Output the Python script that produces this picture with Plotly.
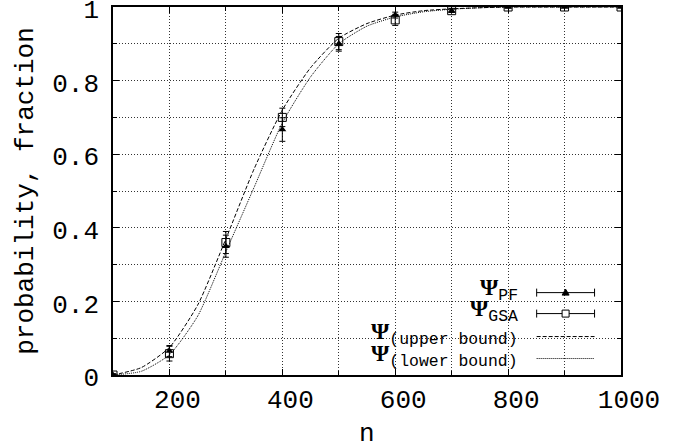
import plotly.graph_objects as go

# ---- data ----
n_points = [100, 200, 300, 400, 500, 600, 700, 800, 900, 1000]
psi_pf = [0.0, 0.065, 0.35, 0.667, 0.90, 0.978, 0.99, 1.0, 1.0, 1.0]
psi_pf_err = [0.003, 0.015, 0.03, 0.032, 0.02, 0.008, 0.005, 0.002, 0.0, 0.0]
psi_gsa = [0.0, 0.058, 0.36, 0.70, 0.906, 0.965, 0.99, 1.0, 1.0, 1.0]
psi_gsa_err = [0.003, 0.02, 0.03, 0.025, 0.022, 0.015, 0.005, 0.002, 0.0, 0.0]

n_curve = [100, 150, 200, 250, 300, 350, 400, 450, 500, 550, 600, 650, 700,
           750, 800, 850, 900, 950, 1000]
upper_bound = [0.0, 0.02, 0.075, 0.19, 0.37, 0.56, 0.72, 0.835, 0.915, 0.955,
               0.978, 0.99, 0.995, 0.998, 1.0, 1.0, 1.0, 1.0, 1.0]
lower_bound = [0.0, 0.01, 0.055, 0.16, 0.335, 0.51, 0.685, 0.81, 0.90, 0.948,
               0.973, 0.987, 0.994, 0.998, 1.0, 1.0, 1.0, 1.0, 1.0]

x_ticks = [200, 400, 600, 800, 1000]
y_ticks = [0, 0.2, 0.4, 0.6, 0.8, 1]
y_tick_labels = ["0", "0.2", "0.4", "0.6", "0.8", "1"]

legend_labels = ["PF", "GSA", "(upper bound)", "(lower bound)"]
x_title = "n"
y_title = "probability, fraction"

# ---- layout geometry ----
W, H = 686, 448
ML, MR, MT, MB = 112.5, 64.5, 7, 72.5
PW = W - ML - MR
PH = H - MT - MB
MONO = "Liberation Mono"


def px2x(px):
    return (px - ML) / PW


def px2y(py):
    return (H - MB - py) / PH


fig = go.Figure()

fig.add_trace(go.Scatter(
    x=n_curve, y=upper_bound, mode="lines",
    line=dict(color="black", width=1, dash="4px,2px", shape="spline", smoothing=0.6),
    showlegend=False, hoverinfo="skip"))
fig.add_trace(go.Scatter(
    x=n_curve, y=lower_bound, mode="lines",
    line=dict(color="black", width=1, dash="1px,1px", shape="spline", smoothing=0.6),
    showlegend=False, hoverinfo="skip"))
fig.add_trace(go.Scatter(
    x=n_points, y=psi_pf, mode="markers",
    marker=dict(symbol="triangle-up", size=7, color="black"),
    error_y=dict(type="data", array=psi_pf_err, color="black", thickness=1, width=3),
    showlegend=False))
fig.add_trace(go.Scatter(
    x=n_points, y=psi_gsa, mode="markers",
    marker=dict(symbol="square-open", size=8, color="black", line=dict(width=1)),
    error_y=dict(type="data", array=psi_gsa_err, color="black", thickness=1, width=3),
    showlegend=False))

# ---- manual gnuplot-style key ----
shapes = []
shapes.append(dict(type="rect", xref="paper", yref="paper", layer="between",
                   x0=px2x(378), x1=px2x(607), y0=0, y1=px2y(282),
                   fillcolor="white", line=dict(width=0)))
rows = [293, 314, 337, 359]
sx0, sx1, sxc = px2x(537), px2x(595), px2x(566)
for i, r in enumerate(rows):
    yy = px2y(r)
    if i < 2:
        shapes.append(dict(type="line", xref="paper", yref="paper", x0=sx0, x1=sx1,
                           y0=yy, y1=yy, line=dict(color="black", width=1)))
        for xx in (sx0, sx1):
            shapes.append(dict(type="line", xref="paper", yref="paper",
                               x0=xx, x1=xx, y0=yy + 4 / PH, y1=yy - 4 / PH,
                               line=dict(color="black", width=1)))
    elif i == 2:
        shapes.append(dict(type="line", xref="paper", yref="paper", x0=sx0, x1=sx1,
                           y0=yy, y1=yy, line=dict(color="black", width=1, dash="4px,2px")))
    else:
        shapes.append(dict(type="line", xref="paper", yref="paper", x0=sx0, x1=sx1,
                           y0=yy, y1=yy, line=dict(color="black", width=1, dash="1px,1px")))
# triangle marker sample
shapes.append(dict(type="path", xref="paper", yref="paper", xsizemode="pixel",
                   ysizemode="pixel", xanchor=sxc, yanchor=px2y(rows[0]),
                   path="M -3.5 -2.5 L 3.5 -2.5 L 0 3.5 Z",
                   fillcolor="black", line=dict(color="black", width=1)))
# square marker sample
shapes.append(dict(type="path", xref="paper", yref="paper", xsizemode="pixel",
                   ysizemode="pixel", xanchor=sxc, yanchor=px2y(rows[1]),
                   path="M -3.5 -3.5 L 3.5 -3.5 L 3.5 3.5 L -3.5 3.5 Z",
                   fillcolor="white", line=dict(color="black", width=1)))

annotations = []
for lab, r in zip(legend_labels, rows):
    annotations.append(dict(
        xref="paper", yref="paper", x=px2x(520), y=px2y(r - 3),
        xanchor="right", yanchor="middle", showarrow=False,
        text=('<span style="font-family:Liberation Serif;font-weight:bold">\u03a8</span>'
              '<sub>' + lab + '</sub>'),
        font=dict(family=MONO, size=23.5, color="black")))
annotations.append(dict(
    xref="paper", yref="paper", x=0.5, y=px2y(435), xanchor="center",
    yanchor="middle", showarrow=False, text=x_title,
    font=dict(family=MONO, size=26, color="black")))

axis_common = dict(
    showline=True, linecolor="black", linewidth=1.5, mirror="ticks",
    ticks="inside", ticklen=6, tickcolor="black", tickwidth=1,
    showgrid=True, gridcolor="#333", gridwidth=1, griddash="1px,2px",
    zeroline=False, automargin=False, ticklabeloverflow="allow",
    tickfont=dict(family=MONO, size=26, color="black"),
)

fig.update_layout(
    width=W, height=H,
    margin=dict(l=ML, r=MR, t=MT, b=MB, pad=0, autoexpand=False),
    paper_bgcolor="white", plot_bgcolor="white",
    shapes=shapes, annotations=annotations,
    xaxis=dict(range=[100, 1000], tickvals=x_ticks, ticklabelshift=8,
               ticklabelstandoff=0,
               minor=dict(dtick=100, tick0=100, showgrid=True, gridcolor="#333",
                          griddash="1px,2px", ticks="inside", ticklen=4,
                          tickcolor="black"),
               **axis_common),
    yaxis=dict(range=[0, 1], tickvals=y_ticks, ticktext=y_tick_labels,
               ticklabelstandoff=7, ticklabelshift=2,
               minor=dict(dtick=0.1, tick0=0, showgrid=True, gridcolor="#333",
                          griddash="1px,2px", ticks="inside", ticklen=4,
                          tickcolor="black"),
               title=dict(text=y_title,
                          font=dict(family=MONO, size=26, color="black"),
                          standoff=11),
               **axis_common),
)

fig.write_html("out.html", config={"displayModeBar": False},
               post_script="document.body.style.margin='0';document.body.style.padding='0';")
